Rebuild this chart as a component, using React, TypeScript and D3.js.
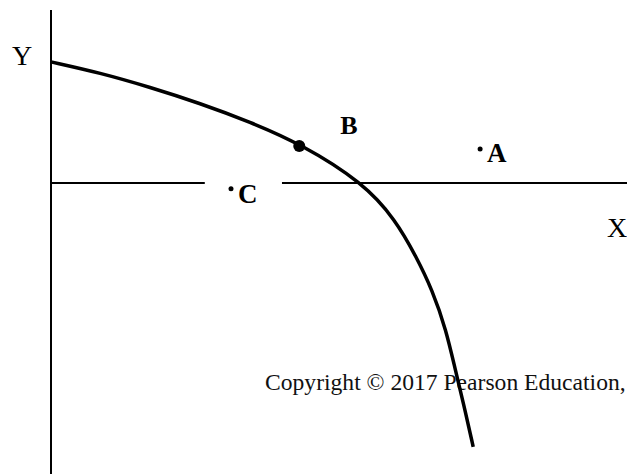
import * as d3 from "d3";

// curve points in axis units (origin = where the two axes meet)
const curveX = [0, 0.85, 1.72, 2.59, 3.45, 4.33, 5.42, 5.98, 6.34, 6.62, 6.86, 7.02, 7.16, 7.33];
const curveY = [2.1, 1.91, 1.66, 1.38, 1.06, 0.68, 0, -0.64, -1.28, -1.86, -2.55, -3.25, -3.82, -4.58];

// labelled points
const pointNames = ["A", "B", "C"];
const pointX = [7.45, 4.31, 3.125];
const pointY = [0.59, 0.64, -0.1];

// gap in the horizontal axis around C
const gapFrom = 2.67;
const gapTo = 4.01;

const W = 627;
const H = 474;

export default function App() {
  const x = d3.scaleLinear().domain([0, 10]).range([51, 627]);
  const y = d3.scaleLinear().domain([-5, 3]).range([471, 10]);

  const pts: [number, number][] = curveX.map((v, i) => [v, curveY[i]]);
  const line = d3
    .line<[number, number]>()
    .x((d) => x(d[0]))
    .y((d) => y(d[1]))
    .curve(d3.curveBasis);

  const serif = "'Liberation Serif', 'Times New Roman', serif";
  const [aX, bX, cX] = pointX;
  const [aY, bY, cY] = pointY;

  return (
    <svg
      width={W}
      height={H}
      style={{ position: "absolute", left: 0, top: 0, background: "#fff" }}
      fontFamily={serif}
    >
      {/* axes */}
      <line x1={x(0)} x2={x(0)} y1={y(3)} y2={H} stroke="#000" strokeWidth={2} />
      <line x1={x(0)} x2={x(gapFrom)} y1={y(0)} y2={y(0)} stroke="#000" strokeWidth={2} />
      <line x1={x(gapTo)} x2={W} y1={y(0)} y2={y(0)} stroke="#000" strokeWidth={2} />

      <text x={12} y={65} fontSize={28}>Y</text>
      <text x={607} y={237} fontSize={28}>X</text>

      <text x={265} y={390} fontSize={23.6} fill="#111">
        Copyright © 2017 Pearson Education,
      </text>

      {/* curve */}
      <path d={line(pts) ?? ""} fill="none" stroke="#000" strokeWidth={3.5} />

      {/* B */}
      <circle cx={x(bX)} cy={y(bY)} r={6} fill="#000" />
      <text x={x(bX) + 41} y={y(bY) - 12} fontSize={26} fontWeight="bold">{pointNames[1]}</text>

      {/* A */}
      <circle cx={x(aX)} cy={y(aY)} r={2.5} fill="#000" />
      <text x={x(aX) + 7} y={y(aY) + 13} fontSize={27} fontWeight="bold">{pointNames[0]}</text>

      {/* C */}
      <circle cx={x(cX)} cy={y(cY)} r={2.5} fill="#000" />
      <text x={x(cX) + 7} y={y(cY) + 14} fontSize={27} fontWeight="bold">{pointNames[2]}</text>
    </svg>
  );
}
